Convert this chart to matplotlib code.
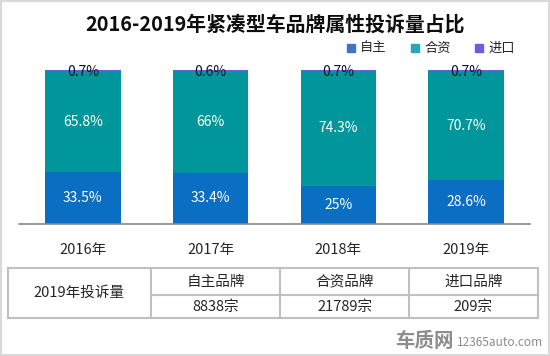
import matplotlib
matplotlib.use("Agg")
import matplotlib.pyplot as plt
from matplotlib.patches import Rectangle
from matplotlib.lines import Line2D

plt.rcParams['font.family'] = ['Noto Sans CJK SC', 'DejaVu Sans']

years = ['2016年', '2017年', '2018年', '2019年']
series_names = ['自主', '合资', '进口']
domestic = [33.5, 33.4, 25, 28.6]
joint = [65.8, 66, 74.3, 70.7]
imported = [0.7, 0.6, 0.7, 0.7]
domestic_labels = ['33.5%', '33.4%', '25%', '28.6%']
joint_labels = ['65.8%', '66%', '74.3%', '70.7%']
imported_labels = ['0.7%', '0.6%', '0.7%', '0.7%']

table_row_label = '2019年投诉量'
table_headers = ['自主品牌', '合资品牌', '进口品牌']
table_values = ['8838宗', '21789宗', '209宗']

bar_colors = ['#0A6EC2', '#00969B', '#6B5CE6']
legend_colors = ['#4472C4', '#26A8BD', '#6B5CE6']

W, H = 550, 356
fig = plt.figure(figsize=(W / 100, H / 100), dpi=100)

def fx(x):
    return x / W

def fy(y):
    return 1 - y / H

# figure border
fig.patches.append(Rectangle((fx(1), fy(355)), fx(548), 354 / H, transform=fig.transFigure,
                             fill=False, edgecolor='#d9d9d9', linewidth=1.5))

ax = fig.add_axes([fx(19), fy(224), fx(530) - fx(19), (224 - 70) / H])
x = range(len(years))
bw = 0.59
ax.bar(x, domestic, bw, color=bar_colors[0])
ax.bar(x, joint, bw, bottom=domestic, color=bar_colors[1])
bottom3 = [d + j for d, j in zip(domestic, joint)]
ax.bar(x, imported, bw, bottom=bottom3, color=bar_colors[2])

for i in x:
    ax.text(i, domestic[i] / 2, domestic_labels[i], ha='center', va='center',
            color='white', fontsize=10)
    ax.text(i, domestic[i] + joint[i] / 2, joint_labels[i], ha='center', va='center',
            color='white', fontsize=10)
    ax.text(i, 98.7, imported_labels[i], ha='center', va='center',
            color='#111111', fontsize=10)

ax.set_xlim(-0.5, len(years) - 0.5)
ax.set_ylim(0, 100)
for s in ['top', 'right', 'left']:
    ax.spines[s].set_visible(False)
ax.spines['bottom'].set_color('#898989')
ax.spines['bottom'].set_linewidth(1.2)
ax.set_yticks([])
ax.set_xticks(list(x))
ax.set_xticklabels(years, fontsize=10.5, color='#262626')
ax.tick_params(axis='x', length=0, pad=14)

# title
fig.text(0.5, fy(24), '2016-2019年紧凑型车品牌属性投诉量占比', ha='center', va='center',
         fontsize=14.3, fontweight='bold', color='#0d0d0d')

# legend
leg_sq_x = [347, 411, 475]
for i, name in enumerate(series_names):
    fig.patches.append(Rectangle((fx(leg_sq_x[i]), fy(52)), 8 / W, 8 / H,
                                 transform=fig.transFigure, color=legend_colors[i]))
    fig.text(fx(leg_sq_x[i] + 13), fy(48), name, ha='left', va='center',
             fontsize=9.5, color='#262626')

# table
lc = '#c0c0c0'
lw = 1.5
tl, tr, tt, tm, tb = 8, 538, 268, 295, 318
cols = [151, 280, 409]
def fline(x0, y0, x1, y1):
    fig.add_artist(Line2D([fx(x0), fx(x1)], [fy(y0), fy(y1)], transform=fig.transFigure,
                          color=lc, linewidth=lw))
fline(tl, tt, tr, tt)
fline(tl, tb, tr, tb)
fline(tl, tt, tl, tb)
fline(tr, tt, tr, tb)
fline(cols[0], tm, tr, tm)
for c in cols:
    fline(c, tt, c, tb)

fig.text(fx((tl + cols[0]) / 2), fy((tt + tb) / 2), table_row_label, ha='center', va='center',
         fontsize=10.5, color='#262626')
edges = cols + [tr]
for i in range(3):
    cx = (edges[i] + edges[i + 1]) / 2
    fig.text(fx(cx), fy((tt + tm) / 2), table_headers[i], ha='center', va='center',
             fontsize=10.5, color='#262626')
    fig.text(fx(cx), fy((tm + tb) / 2), table_values[i], ha='center', va='center',
             fontsize=10.5, color='#262626')

# watermark logo
fig.text(fx(395), fy(341), '车质网', ha='left', va='center', fontsize=14,
         fontweight='bold', color='#8c8c8c')
fig.text(fx(543), fy(343), '12365auto.com', ha='right', va='center', fontsize=8.5,
         color='#8c8c8c')

fig.savefig('out.png', dpi=100)
